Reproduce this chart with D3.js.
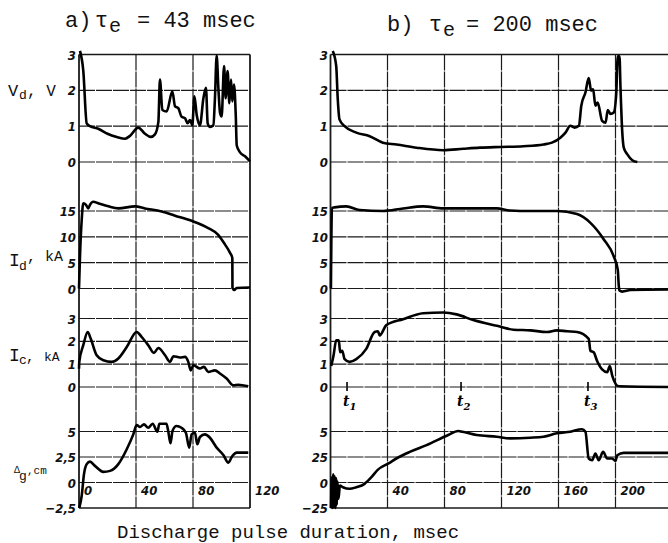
<!DOCTYPE html>
<html>
<head>
<meta charset="utf-8">
<script src="https://cdn.jsdelivr.net/npm/d3@7"></script>
<style>
  body { margin: 0; background: #fff; }
  svg { display: block; }
  .num { font-family: "DejaVu Sans Condensed", "DejaVu Sans", sans-serif; font-style: italic; font-weight: bold; font-size: 13px; fill: #111; }
  .type { font-family: "Liberation Mono", "DejaVu Sans Mono", monospace; fill: #111; }
</style>
</head>
<body>
<svg id="chart" width="668" height="543"></svg>
<script>
// ---- data: [time msec, value] ----
// panel a) tau_e = 43 msec
var leftVd = [[0.7,3.1],[3,2.55],[5.4,1.08],[7.7,1.0],[13.5,0.93],[20,0.79],[26.5,0.70],[32.3,0.65],[35.8,0.73],[41.6,0.96],[46.3,0.79],[50.5,0.70],[53.3,0.77],[55.7,1.12],[56.8,2.3],[58.5,1.45],[61.5,1.41],[65.5,1.97],[67.4,1.55],[69.7,1.5],[72,1.26],[74.4,1.22],[76.2,1.08],[77.9,1.17],[79.5,1.03],[81,1.83],[82.6,1.31],[84.9,1.03],[87.3,1.78],[89.1,2.07],[90.3,1.08],[91.9,0.98],[94.3,1.03],[95.4,1.78],[96.6,2.97],[97.8,2.07],[99,1.36],[100.1,1.27],[101.8,2.68],[102.9,1.78],[104.3,2.54],[105.5,1.64],[106.7,2.3],[107.6,1.69],[108.8,2.16],[110,1.31],[110.7,0.46],[113,0.27],[116.5,0.16],[120,0.02]];
var leftIa = [[0,0],[0.7,6.2],[1.9,13.3],[3,16.5],[4.9,16.2],[6.5,15.5],[7.7,16.2],[10,16.8],[13.5,16.5],[20.6,15.9],[27.6,15.5],[39.3,15.9],[46.3,15.5],[58,14.9],[67.4,14.1],[79,13.1],[90.7,11.7],[97.7,10.4],[102.5,8.5],[106,6.9],[107.6,5.9],[107.7,0.1],[109,-0.3],[110.6,0.1],[120,0.2]];
var leftIc = [[0,0.8],[0.2,1.1],[3,1.83],[6.1,2.41],[8.2,2.12],[12.4,1.39],[17.1,1.17],[23,1.1],[27.6,1.25],[33.5,1.75],[40.5,2.41],[44,2.19],[48.6,1.83],[52.6,1.49],[55.7,1.71],[60.4,1.39],[63.9,1.1],[66.2,1.35],[70.9,1.29],[74.4,1.32],[76.7,1.1],[78.4,0.73],[80.2,0.95],[84.9,0.81],[87.7,0.88],[90.7,0.66],[95.4,0.73],[98.9,0.59],[103.6,0.37],[108.3,0.07],[111.8,0.1],[118.8,0.03]];
var leftDg = [[0.2,-2.5],[1.9,-1.3],[3.5,0.82],[5.4,1.8],[7.7,2.05],[11.2,1.63],[17.1,1.04],[21.8,1.14],[27.6,1.8],[33.5,3.26],[38.1,4.72],[40.5,5.63],[42.8,5.44],[45.6,5.7],[48.6,5.37],[51.7,5.76],[55,4.98],[56.4,5.76],[61.4,5.76],[62.6,5.05],[64.2,3.85],[65.6,5.05],[68.4,5.54],[71.9,5.37],[75,4.88],[77.4,3.42],[79,4.72],[81.4,4.88],[83,3.75],[84.9,4.46],[88.4,4.72],[91.9,4.39],[96.6,3.42],[101.3,2.7],[104.8,1.95],[107.6,2.6],[110.7,2.93],[118.8,2.93]];

// panel b) tau_e = 200 msec
var rightVd = [[1.6,3.1],[4,2.68],[5.1,1.75],[6.3,1.19],[9.9,1.0],[18.1,0.82],[27.5,0.72],[36.8,0.54],[46.3,0.49],[60.4,0.4],[79.1,0.33],[93.2,0.37],[104.9,0.4],[119,0.42],[135.4,0.44],[149.5,0.49],[155.4,0.54],[161.3,0.68],[164.9,0.82],[168.3,1.01],[171.3,0.96],[174.3,1.01],[176,1.57],[178.9,1.94],[181.2,2.34],[182.9,1.99],[184.3,2.03],[185.9,1.57],[187.5,1.66],[190.6,1.15],[193,1.1],[194.6,1.45],[196.5,1.34],[198.8,1.38],[200.5,1.9],[201.6,2.95],[202.8,2.95],[203.5,2.08],[204.7,0.87],[205.8,0.4],[208.2,0.22],[211.8,0.05],[215.3,0]];
var rightIa = [[0.3,0],[1.0,15.6],[2.8,15.7],[11.1,15.9],[20.4,15.2],[36.8,15.0],[50.9,15.5],[65,15.9],[79.1,15.5],[97.9,15.5],[116.7,15.5],[126,15.1],[140.1,15.0],[158.9,15.0],[173,14.4],[182.4,12.7],[191.8,9.5],[198.8,6.2],[201.6,3.6],[202.3,0.5],[202.8,-0.4],[204.7,-0.6],[210.6,-0.3],[237,-0.2]];
var rightIc = [[0.5,0.92],[2.1,1.37],[4,2.04],[5.8,2.04],[6.8,1.52],[8.2,1.59],[9.9,1.22],[13.4,1.1],[18.1,1.22],[25.1,1.67],[31,2.41],[33.3,2.44],[34.5,2.26],[39.2,2.71],[50.9,2.97],[65,3.23],[79.1,3.26],[88.5,3.18],[100.2,2.93],[116.7,2.68],[128.4,2.51],[140.1,2.48],[151.9,2.41],[158.9,2.48],[166,2.44],[173,2.41],[181.2,2.11],[182.4,1.59],[184.7,1.52],[187.1,1.14],[190.6,0.77],[194.2,0.65],[196,0.92],[197.7,0.5],[202.3,0.03],[237,0]];
var rightDg = [[0.4,-2.5],[0.9,0.5],[1.4,-2.5],[1.9,0.8],[2.4,-2.4],[2.9,0.6],[3.4,-2.5],[3.9,0.4],[4.4,-2.2],[4.9,0.1],[5.6,-1.6],[6.6,-0.3],[8.7,-0.46],[13.4,-0.62],[18.1,-0.46],[23.9,-0.13],[28.7,0.52],[33.3,1.26],[40.4,1.85],[47.4,2.45],[55.6,3.0],[67.4,3.66],[82.6,4.65],[89.6,5.05],[92.5,4.98],[102.6,4.65],[116.7,4.49],[126,4.33],[140.1,4.39],[149.5,4.49],[158.9,4.82],[168.3,4.98],[176.5,5.22],[178.9,4.98],[181.2,2.35],[183.6,2.18],[185.9,2.84],[188.2,2.18],[191.3,3.0],[194.2,2.35],[197.7,2.35],[200,2.11],[201.2,2.67],[205.8,2.9],[237,2.9]];

// ---- ticks and labels ----
var leftXTicks = [0, 40, 80, 120];
var leftXLabels = ["0", "40", "80", "120"];
var rightXTicks = [0, 40, 80, 120, 160, 200, 240];
var rightXLabels = ["", "40", "80", "120", "160", "200", ""];
var vdTicks = [0, 1, 2, 3];
var iaTicks = [0, 5, 10, 15];
var icTicks = [0, 1, 2, 3];
var dgTicks = [-2.5, 0, 2.5, 5];
var dgLabelsLeft = ["\u22122,5", "0", "2,5", "5"];
var dgLabelsRight = ["\u221225", "0", "25", "5"];
var tMarks = [11.6, 91.6, 180.7];
var tNames = ["1", "2", "3"];

var svg = d3.select("#chart");
var W = 668;

var xLeft = d3.scaleLinear().domain([0, 120]).range([79, 250]);
var xRight = d3.scaleLinear().domain([0, 240]).range([330.5, 672.5]);

var yVd = d3.scaleLinear().domain([0, 3]).range([162, 54.5]);
var yIa = d3.scaleLinear().domain([0, 15]).range([288.5, 211]);
var yIc = d3.scaleLinear().domain([0, 3]).range([387, 318.5]);
var yDg = d3.scaleLinear().domain([-2.5, 5]).range([508, 431.5]);

function fmt(d) { return String(d); }

function drawPanel(xs, xTicks, xLabels, dgLabels, series, labelX) {
    var g = svg.append("g");
    var xa = xs(xs.domain()[0]);
    var xb = Math.min(xs(xs.domain()[1]), W);
    var top = yVd(3), bottom = yDg(-2.5);

    var bands = [
        { y: yVd, ticks: vdTicks, labels: vdTicks.map(fmt) },
        { y: yIa, ticks: iaTicks, labels: iaTicks.map(fmt) },
        { y: yIc, ticks: icTicks, labels: icTicks.map(fmt) },
        { y: yDg, ticks: dgTicks, labels: dgLabels }
    ];

    function isFrame(b, d) {
        return (b.y === yVd && d === 3) || (b.y === yDg && d === -2.5);
    }

    // horizontal grid lines
    bands.forEach(function(b) {
        g.selectAll(null)
            .data(b.ticks)
            .enter()
            .append("line")
            .attr("x1", xa).attr("x2", xb)
            .attr("y1", function(d) { return b.y(d); })
            .attr("y2", function(d) { return b.y(d); })
            .attr("stroke", "#1a1a1a")
            .attr("stroke-width", function(d) { return isFrame(b, d) ? 1.6 : 1.2; })
            .attr("stroke-dasharray", function(d) { return isFrame(b, d) ? null : "16,1"; });

        g.selectAll(null)
            .data(b.ticks)
            .enter()
            .append("text")
            .attr("class", "num")
            .attr("x", labelX)
            .attr("y", function(d) { return b.y(d) + 5; })
            .attr("text-anchor", "end")
            .text(function(d, i) { return b.labels[i]; });
    });

    // vertical grid lines
    g.selectAll(null)
        .data(xTicks.filter(function(d) { return xs(d) <= W; }))
        .enter()
        .append("line")
        .attr("x1", function(d) { return xs(d); })
        .attr("x2", function(d) { return xs(d); })
        .attr("y1", top).attr("y2", bottom)
        .attr("stroke", "#1a1a1a")
        .attr("stroke-width", function(d, i) {
            return (i === 0 || d === xs.domain()[1]) ? 1.8 : 1.2;
        })
        .attr("stroke-dasharray", function(d, i) {
            return (i === 0 || d === xs.domain()[1]) ? null : "16,1";
        });

    // x labels sit just right of each grid line
    g.selectAll(null)
        .data(xTicks)
        .enter()
        .append("text")
        .attr("class", "num")
        .attr("x", function(d) { return xs(d) + 5; })
        .attr("y", 495)
        .text(function(d, i) { return xLabels[i]; });

    // traces
    series.forEach(function(s) {
        var line = d3.line()
            .x(function(d) { return xs(d[0]); })
            .y(function(d) { return s.y(d[1]); })
            .curve(d3.curveMonotoneX);
        g.append("path")
            .datum(s.data)
            .attr("d", line)
            .attr("fill", "none")
            .attr("stroke", "#000")
            .attr("stroke-width", 2.6)
            .attr("stroke-linejoin", "round");
    });
    return g;
}

drawPanel(xLeft, leftXTicks, leftXLabels, dgLabelsLeft, [
    { y: yVd, data: leftVd },
    { y: yIa, data: leftIa },
    { y: yIc, data: leftIc },
    { y: yDg, data: leftDg }
], 76);

var gr = drawPanel(xRight, rightXTicks, rightXLabels, dgLabelsRight, [
    { y: yVd, data: rightVd },
    { y: yIa, data: rightIa },
    { y: yIc, data: rightIc },
    { y: yDg, data: rightDg }
], 328);

// t1, t2, t3 markers on the Ic zero line
gr.selectAll(null)
    .data(tMarks)
    .enter()
    .append("line")
    .attr("x1", function(d) { return xRight(d); })
    .attr("x2", function(d) { return xRight(d); })
    .attr("y1", yIc(0) - 5).attr("y2", yIc(0) + 4)
    .attr("stroke", "#000").attr("stroke-width", 1.6);

var tl = gr.selectAll(null)
    .data(tMarks)
    .enter()
    .append("text")
    .attr("font-family", "DejaVu Serif, serif")
    .attr("font-style", "italic")
    .attr("font-weight", "bold")
    .attr("font-size", 14)
    .attr("x", function(d) { return xRight(d) - 4; })
    .attr("y", 406);
tl.append("tspan").text("t");
tl.append("tspan").attr("font-size", 10).attr("dy", 4).text(function(d, i) { return tNames[i]; });

// titles
function title(parts) {
    var t = svg.append("text").attr("class", "type");
    parts.forEach(function(p) {
        t.append("tspan").attr("x", p.x).attr("y", p.y).attr("font-size", p.size).text(p.s);
    });
}
title([
    { s: "a)", x: 65, y: 27, size: 22 },
    { s: "\u03c4", x: 95, y: 27, size: 22 },
    { s: "e", x: 109, y: 32, size: 20 },
    { s: "= 43 msec", x: 137, y: 27, size: 22 }
]);
title([
    { s: "b)", x: 387, y: 31, size: 22 },
    { s: "\u03c4", x: 429, y: 31, size: 22 },
    { s: "e", x: 443, y: 36, size: 20 },
    { s: "= 200 msec", x: 466, y: 31, size: 22 }
]);

// axis titles
title([
    { s: "V", x: 8, y: 96, size: 17 },
    { s: "d", x: 19, y: 99, size: 13 },
    { s: ", V", x: 27, y: 96, size: 16 }
]);
title([
    { s: "I", x: 9, y: 266, size: 18 },
    { s: "d", x: 19, y: 270, size: 13 },
    { s: ", kA", x: 27, y: 261, size: 15 }
]);
title([
    { s: "I", x: 9, y: 361, size: 18 },
    { s: "c", x: 19, y: 364, size: 13 },
    { s: ",", x: 26, y: 361, size: 14 },
    { s: "kA", x: 44, y: 361, size: 13 }
]);
title([
    { s: "\u0394", x: 14, y: 473, size: 10 },
    { s: "g", x: 19, y: 480, size: 13 },
    { s: ",cm", x: 27, y: 474, size: 11 }
]);

svg.append("text")
    .attr("class", "type")
    .attr("x", 117)
    .attr("y", 538)
    .attr("font-size", 19)
    .text("Discharge pulse duration, msec");
</script>
</body>
</html>
